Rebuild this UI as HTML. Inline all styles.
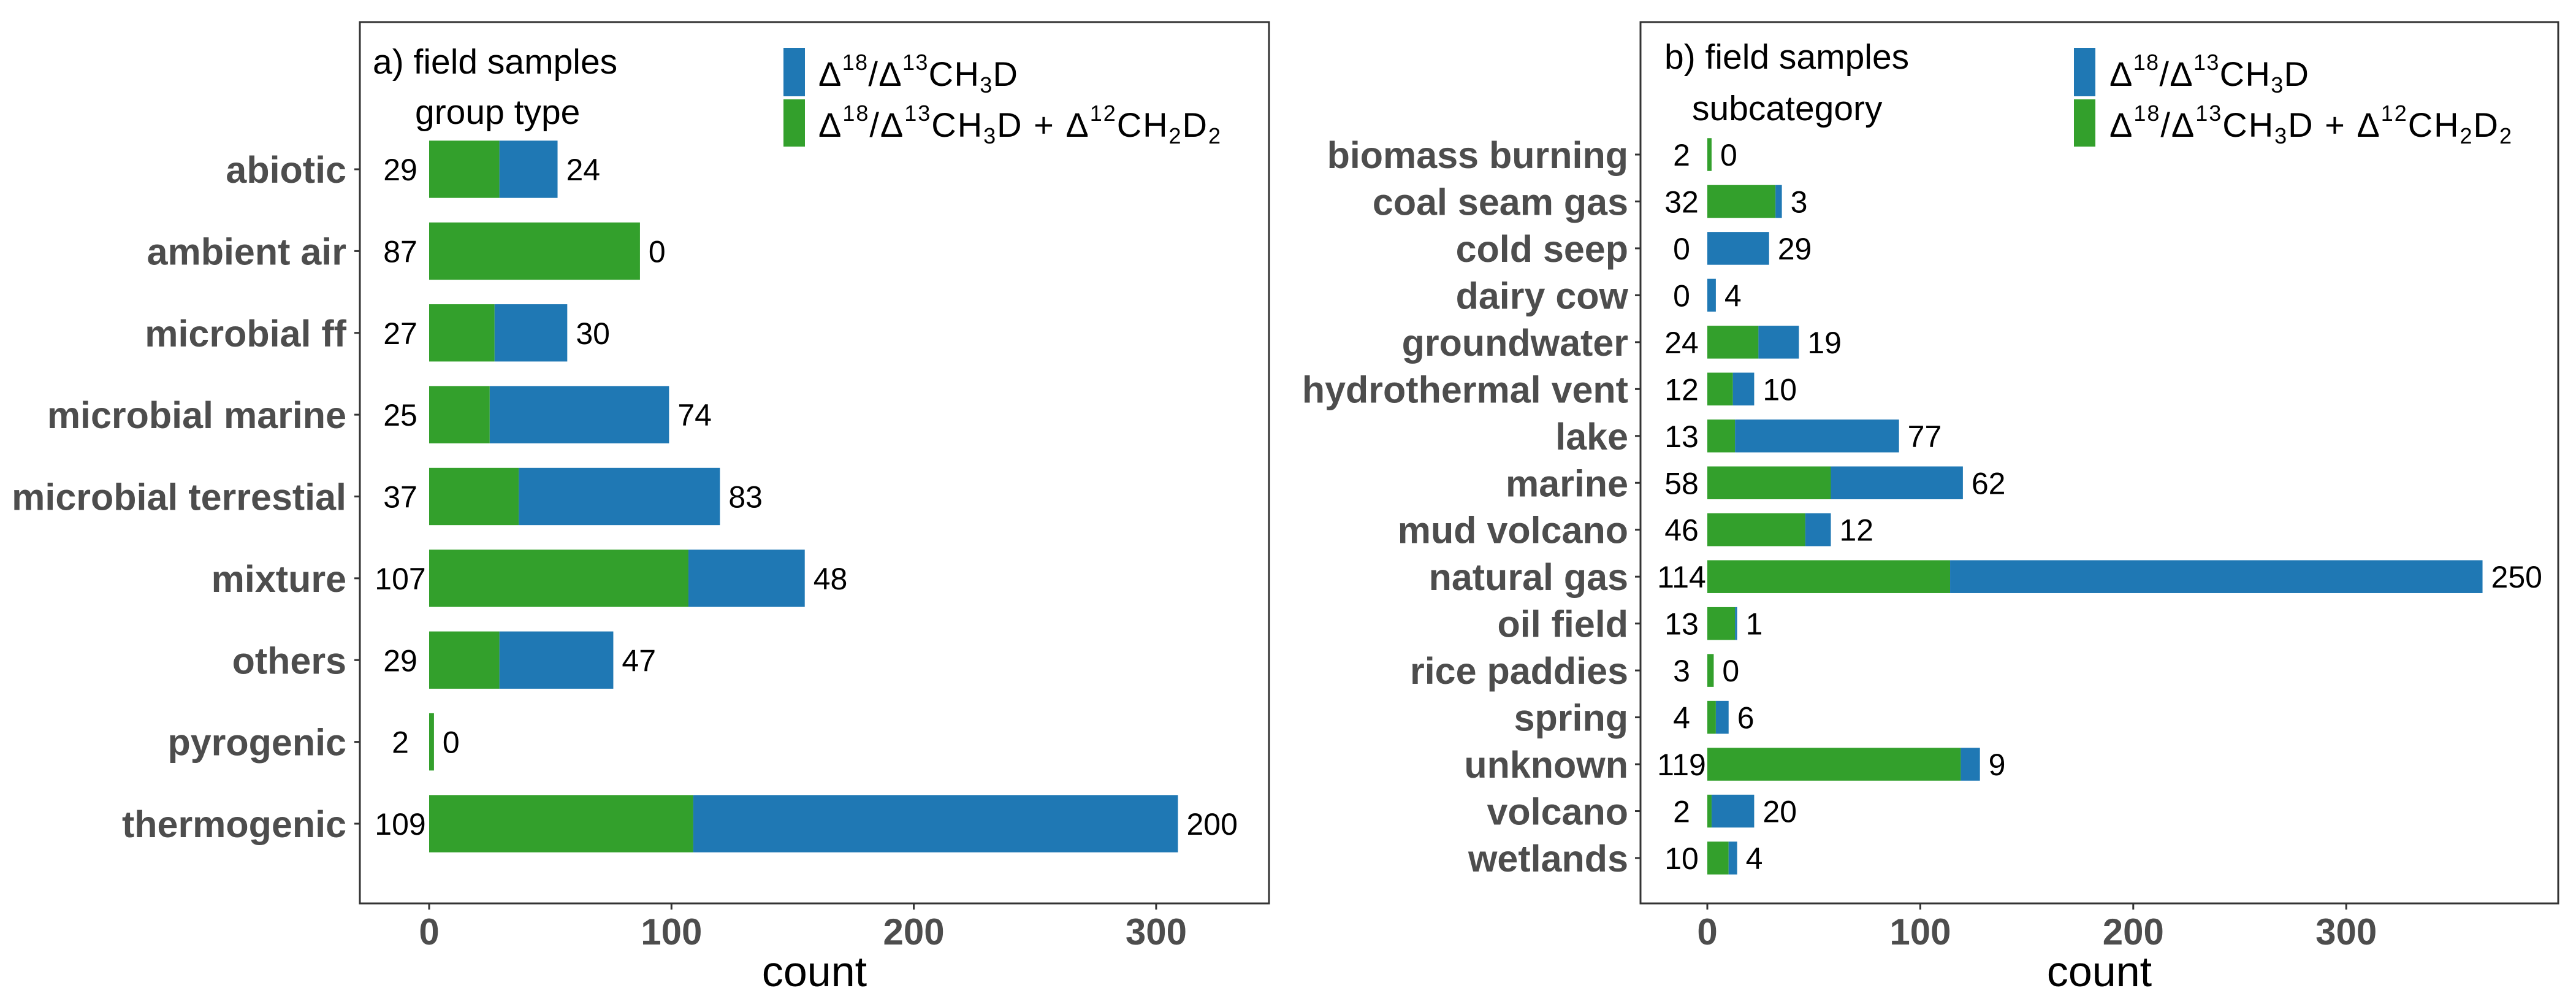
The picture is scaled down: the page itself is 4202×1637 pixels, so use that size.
<!DOCTYPE html>
<html><head><meta charset="utf-8"><style>
html,body{margin:0;padding:0;background:#fff;}
svg{display:block;font-family:"Liberation Sans",sans-serif;}
</style></head><body>
<svg id="chart" xmlns="http://www.w3.org/2000/svg" width="4202" height="1637" viewBox="0 0 4202 1637">
<rect x="0" y="0" width="4202" height="1637" fill="#fff"/>
<g id="pa"></g>
<g id="pb"></g>
</svg>
<script>
const catsA = ["abiotic","ambient air","microbial ff","microbial marine","microbial terrestial","mixture","others","pyrogenic","thermogenic"];
const greenA = [29,87,27,25,37,107,29,2,109];
const blueA = [24,0,30,74,83,48,47,0,200];
const catsB = ["biomass burning","coal seam gas","cold seep","dairy cow","groundwater","hydrothermal vent","lake","marine","mud volcano","natural gas","oil field","rice paddies","spring","unknown","volcano","wetlands"];
const greenB = [2,32,0,0,24,12,13,58,46,114,13,3,4,119,2,10];
const blueB = [0,3,29,4,19,10,77,62,12,250,1,0,6,9,20,4];
const ticks = [0,100,200,300];
const NS="http://www.w3.org/2000/svg";
function mk(parent,tag,attrs,text){const e=document.createElementNS(NS,tag);for(const k in attrs)e.setAttribute(k,attrs[k]);if(text!==undefined)e.textContent=text;parent.appendChild(e);return e;}

function panel(g,cfg){
  const {cats,green,blue,fx0,fx1,fy0,fy1,x0,pxPer,yFirst,yLast,labR,valC,title,sub,titleX,subX,titleY,subY,legX,legTX,prefix}=cfg;
  const sx=v=>x0+v*pxPer;
  const step=(yLast-yFirst)/(cats.length-1);
  const sy=i=>yFirst+i*step;
  const bh=step*0.7;
  const fr=mk(g,'rect',{x:fx0,y:fy0,width:fx1-fx0,height:fy1-fy0,fill:'none',stroke:'#333',"stroke-width":3});
  
  
  cats.forEach((c,i)=>{
    const y=sy(i);
    const gw=sx(green[i])-sx(0), bw=sx(blue[i])-sx(0);
    const rg=mk(g,'rect',{x:sx(0),y:y-bh/2,width:gw,height:bh,fill:'#33a02c'});
    
    
    const rb=mk(g,'rect',{x:sx(green[i]),y:y-bh/2,width:bw,height:bh,fill:'#1f78b4'});
    
    
    const lab=mk(g,'text',{x:labR,y:y+22,"text-anchor":'end',"font-size":61,"font-weight":'bold',fill:'#4d4d4d'},c);
    
    
    const tk=mk(g,'line',{x1:fx0-9,x2:fx0,y1:y,y2:y,stroke:'#333',"stroke-width":3});
    
    
    const vl=mk(g,'text',{x:valC,y:y+18,"text-anchor":'middle',"font-size":50,fill:'#000'},green[i]);
    
    
    const vr=mk(g,'text',{x:sx(green[i]+blue[i])+14,y:y+18,"font-size":50,fill:'#000'},blue[i]);
    
    
  });
  ticks.forEach(t=>{
    const tk=mk(g,'line',{x1:sx(t),x2:sx(t),y1:fy1,y2:fy1+10,stroke:'#333',"stroke-width":3});
    
    
    const tl=mk(g,'text',{x:sx(t),y:fy1+67,"text-anchor":'middle',"font-size":60,"font-weight":'bold',fill:'#4d4d4d'},t);
    
    
  });
  const xt=mk(g,'text',{x:(fx0+fx1)/2,y:1608,"text-anchor":'middle',"font-size":70,fill:'#000'},'count');
  
  
  const t1=mk(g,'text',{x:titleX,y:titleY,"font-size":57,fill:'#000'},title);
  
  
  const t2=mk(g,'text',{x:subX,y:subY,"font-size":57,fill:'#000'},sub);
  
  
  const k1=mk(g,'rect',{x:legX,y:78,width:35,height:79,fill:'#1f78b4'});
  
  
  const k2=mk(g,'rect',{x:legX,y:162,width:35,height:77,fill:'#33a02c'});
  
  
  const l1=mk(g,'text',{x:legTX,y:140,"font-size":56,fill:'#000',textLength:325,lengthAdjust:'spacing'});
  l1.innerHTML='Δ<tspan dy="-26" font-size="36">18</tspan><tspan dy="26">/Δ</tspan><tspan dy="-26" font-size="36">13</tspan><tspan dy="26">CH</tspan><tspan dy="11" font-size="36">3</tspan><tspan dy="-11">D</tspan>';
  
  
  const l2=mk(g,'text',{x:legTX,y:223,"font-size":56,fill:'#000',textLength:656,lengthAdjust:'spacing'});
  l2.innerHTML='Δ<tspan dy="-26" font-size="36">18</tspan><tspan dy="26">/Δ</tspan><tspan dy="-26" font-size="36">13</tspan><tspan dy="26">CH</tspan><tspan dy="11" font-size="36">3</tspan><tspan dy="-11">D  +  Δ</tspan><tspan dy="-26" font-size="36">12</tspan><tspan dy="26">CH</tspan><tspan dy="11" font-size="36">2</tspan><tspan dy="-11">D</tspan><tspan dy="11" font-size="36">2</tspan>';
  
  
}
panel(document.getElementById('pa'),{cats:catsA,green:greenA,blue:blueA,fx0:587,fx1:2070,fy0:36,fy1:1473,x0:700,pxPer:3.953,yFirst:276,yLast:1343,labR:565,valC:653,title:'a) field samples',sub:'group type',titleX:608,subX:677,titleY:120,subY:202,legX:1278,legTX:1335,prefix:'a-'});
panel(document.getElementById('pb'),{cats:catsB,green:greenB,blue:blueB,fx0:2676,fx1:4173,fy0:36,fy1:1473,x0:2785,pxPer:3.474,yFirst:252,yLast:1399,labR:2656,valC:2743,title:'b) field samples',sub:'subcategory',titleX:2715,subX:2760,titleY:112,subY:196,legX:3383,legTX:3441,prefix:'b-'});
</script>
</body></html>
